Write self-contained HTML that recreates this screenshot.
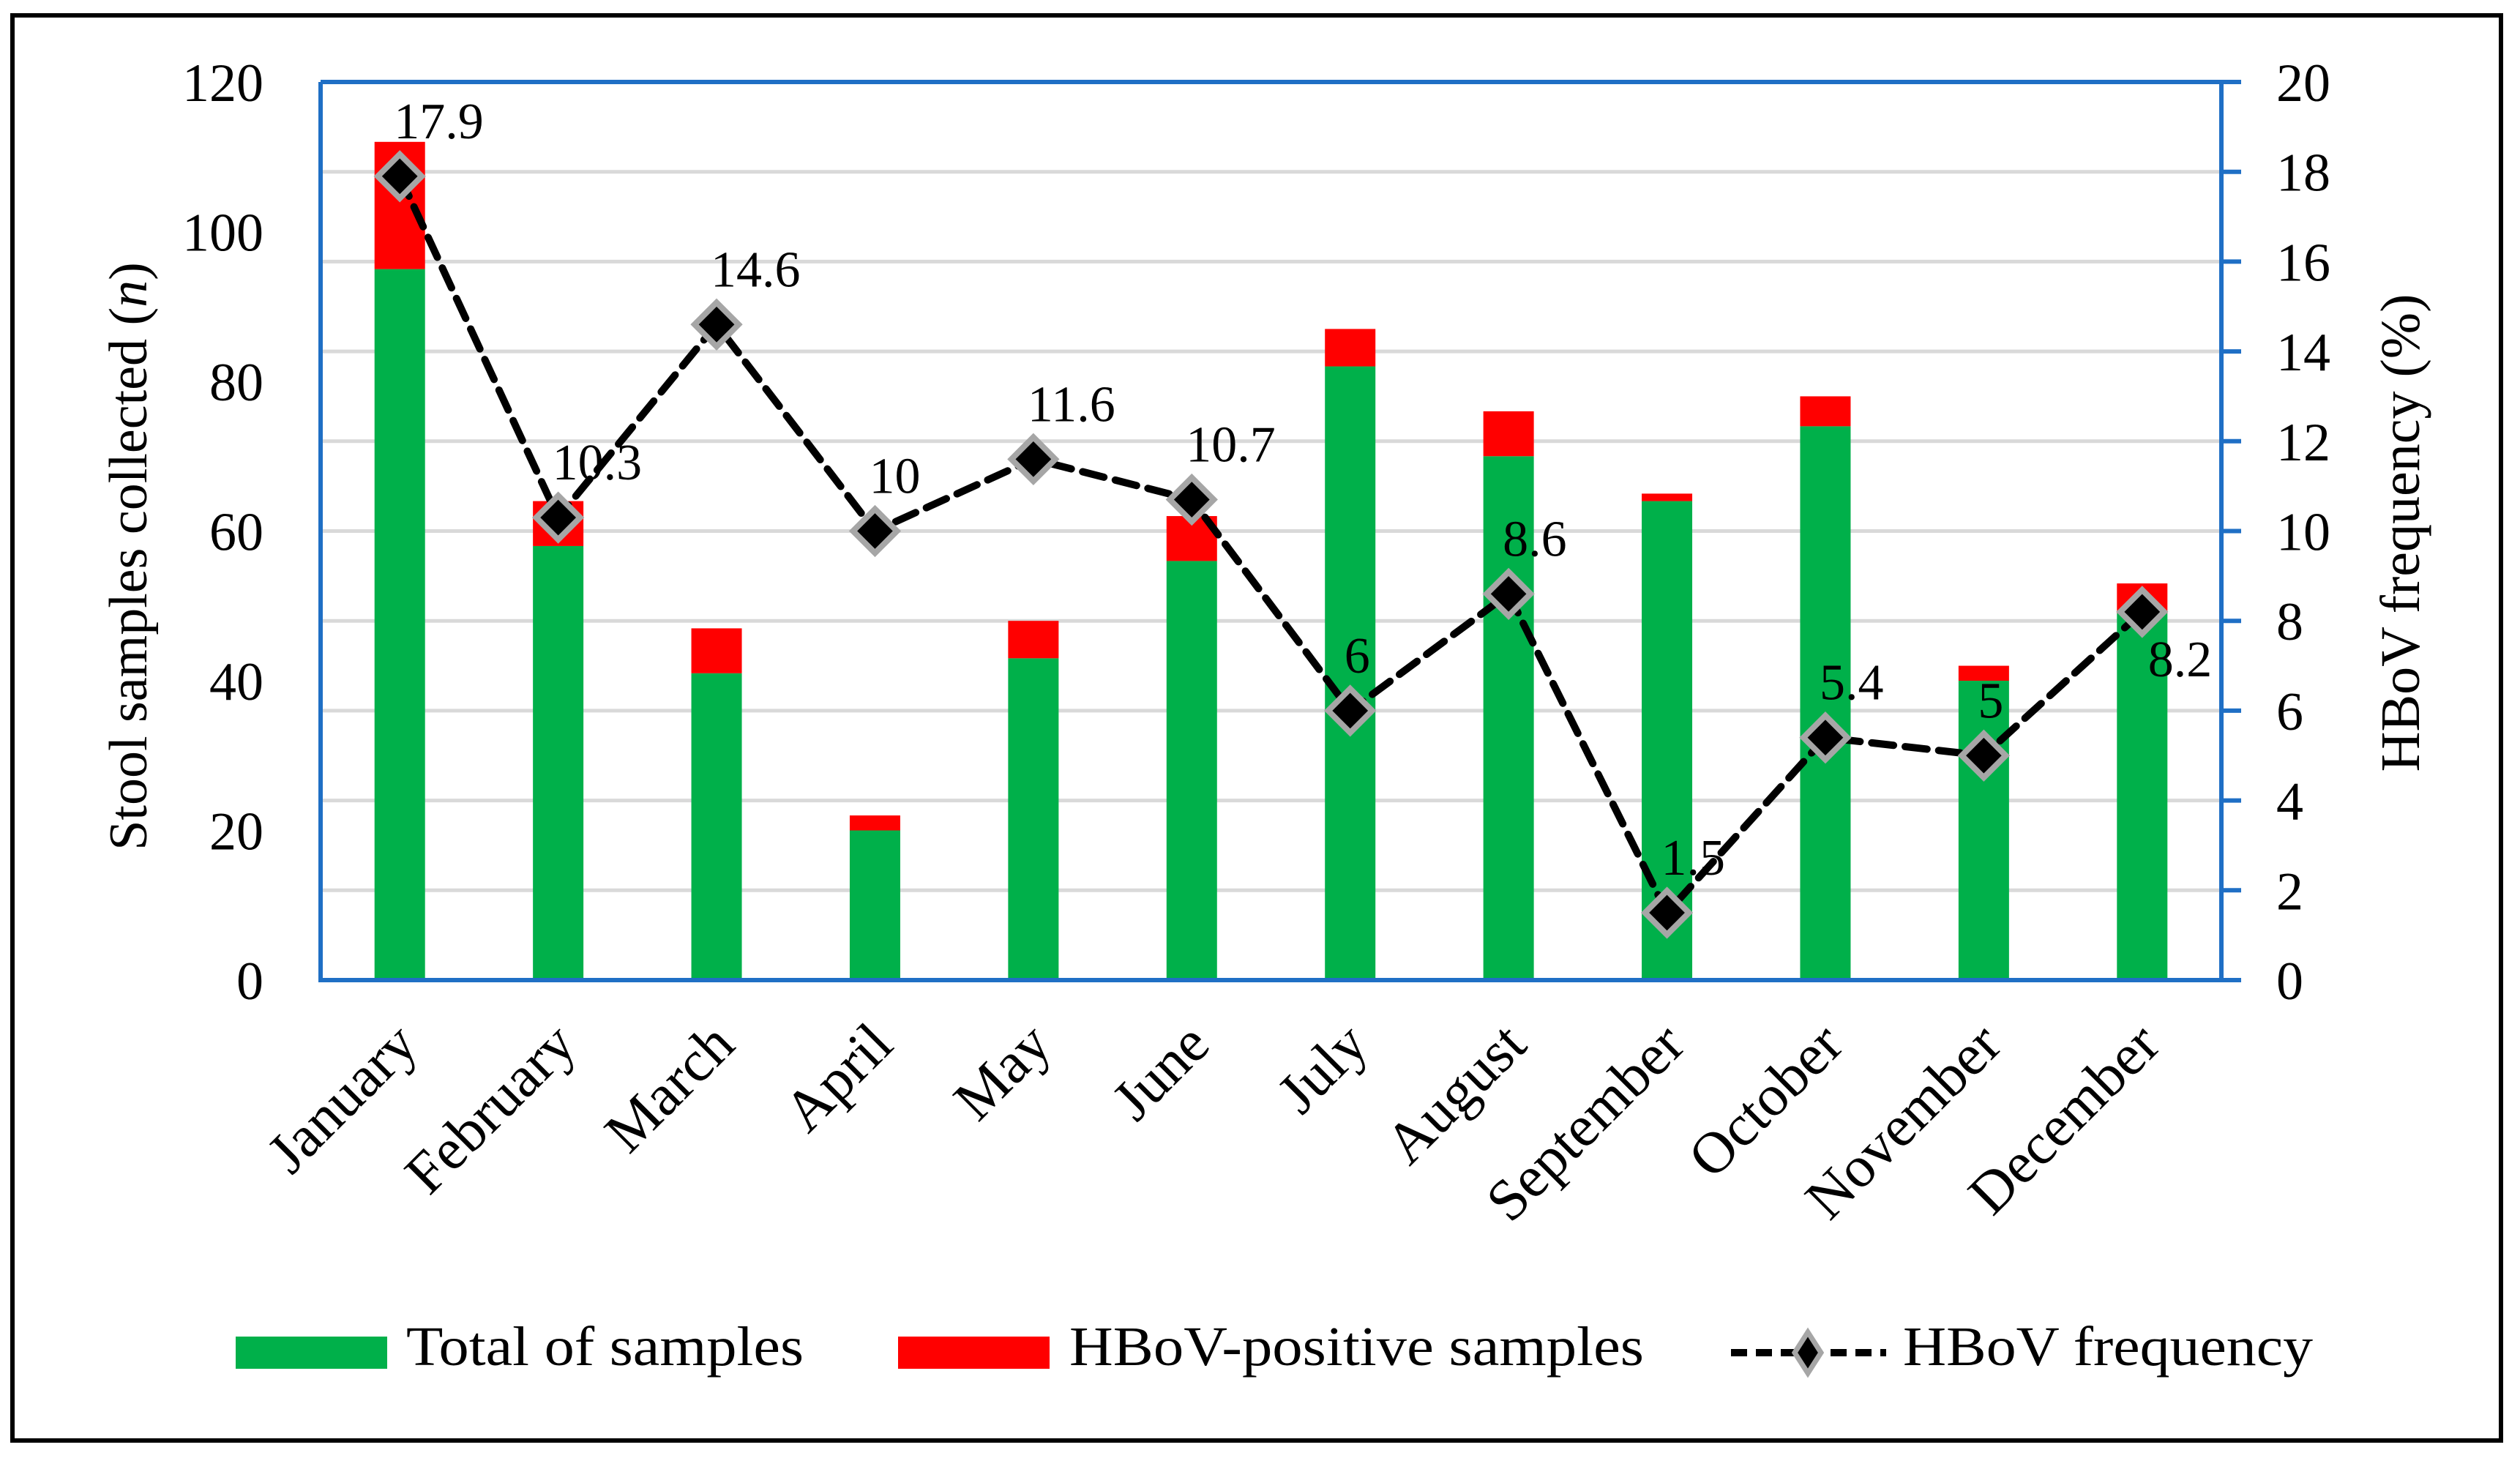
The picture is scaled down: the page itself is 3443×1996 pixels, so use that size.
<!DOCTYPE html>
<html><head><meta charset="utf-8"><style>
html,body{margin:0;padding:0;background:#fff}
svg text{font-family:"Liberation Serif",serif;fill:#000}
</style></head><body>
<svg id="chart" width="3443" height="1991" viewBox="0 0 3443 1991" xmlns="http://www.w3.org/2000/svg">
<rect x="17" y="21" width="3400" height="1947" fill="#fff" stroke="#000" stroke-width="6"/>
<g id="grid"></g>
<g id="bars"></g>
<g id="axes"></g>
<g id="line"></g>
<g id="labels"></g>
<text transform="translate(200,760) rotate(-90)" text-anchor="middle" font-size="74">Stool samples collected (<tspan font-style="italic">n</tspan>)</text>
<text transform="translate(3305,728) rotate(-90)" text-anchor="middle" font-size="76">HBoV frequency (%)</text>
<g>
<rect x="322" y="1826" width="207" height="44" fill="#00b04a"/>
<text x="555" y="1865" font-size="76" textLength="543" lengthAdjust="spacingAndGlyphs">Total of samples</text>
<rect x="1227" y="1826" width="207" height="44" fill="#ff0000"/>
<text x="1461" y="1865" font-size="76" textLength="785" lengthAdjust="spacingAndGlyphs">HBoV-positive samples</text>
<line x1="2365" y1="1848" x2="2577" y2="1848" stroke="#000" stroke-width="10" stroke-dasharray="22,12"/>
<path d="M2470,1820 L2488,1848 L2470,1876 L2452,1848 Z" fill="#000" stroke="#a6a6a6" stroke-width="7"/>
<text x="2600" y="1865" font-size="76" textLength="560" lengthAdjust="spacingAndGlyphs">HBoV frequency</text>
</g>
</svg>
<script>
const months=["January","February","March","April","May","June","July","August","September","October","November","December"];
const totalSamples=[95,58,41,20,43,56,82,70,64,74,40,49];
const positiveSamples=[17,6,6,2,5,6,5,6,1,4,2,4];
const frequency=[17.9,10.3,14.6,10,11.6,10.7,6,8.6,1.5,5.4,5,8.2];
const leftTicks=[0,20,40,60,80,100,120];
const rightTicks=[0,2,4,6,8,10,12,14,16,18,20];

const NS="http://www.w3.org/2000/svg";
const X0=438,X1=3035,Y0=1339,Y1=112;
const bw=(X1-X0)/months.length;
const yL=v=>Y0-(v/120)*(Y0-Y1);
const yR=v=>Y0-(v/20)*(Y0-Y1);
const xC=i=>X0+bw*(i+0.5);
function mk(tag,attrs,parent){const e=document.createElementNS(NS,tag);for(const k in attrs)e.setAttribute(k,attrs[k]);document.getElementById(parent).appendChild(e);return e;}

rightTicks.forEach(t=>{if(t===0)return;
 const g=mk('line',{x1:X0,x2:X1,y1:yR(t),y2:yR(t),stroke:'#d9d9d9','stroke-width':5},'grid');
 
 
});
months.forEach((m,i)=>{
 const w=69,x=xC(i)-w/2;
 const g=mk('rect',{x:x,y:yL(totalSamples[i]),width:w,height:Y0-yL(totalSamples[i]),fill:'#00b04a'},'bars');
 
 
 const r=mk('rect',{x:x,y:yL(totalSamples[i]+positiveSamples[i]),width:w,height:yL(totalSamples[i])-yL(totalSamples[i]+positiveSamples[i]),fill:'#ff0000'},'bars');
 
 
 const ax=xC(i)+28,ay=Y0+92;
 const t=mk('text',{x:ax,y:ay,'text-anchor':'end','font-size':80,transform:`rotate(-45 ${ax} ${ay})`},'labels');
 t.textContent=m;
 
 
});
let a=mk('path',{d:`M${X0},${Y1} V${Y0} H${X1+27} M${X0},${Y1} H${X1} V${Y0}`,fill:'none',stroke:'#1f6fc5','stroke-width':6},'axes');


rightTicks.forEach(t=>{
 const k=mk('line',{x1:X1,x2:X1+27,y1:yR(t),y2:yR(t),stroke:'#1f6fc5','stroke-width':6},'axes');
 
 
 const l=mk('text',{x:3110,y:yR(t)+26,'font-size':74},'labels');
 l.textContent=t;
 
 
});
leftTicks.forEach(t=>{
 const l=mk('text',{x:360,y:yL(t)+26,'font-size':74,'text-anchor':'end'},'labels');
 l.textContent=t;
 
 
});
const pts=frequency.map((f,i)=>xC(i)+','+yR(f)).join(' ');
const pl=mk('polyline',{points:pts,fill:'none',stroke:'#000','stroke-width':10,'stroke-dasharray':'30,16','stroke-linecap':'round'},'line');


frequency.forEach((f,i)=>{
 const x=xC(i),y=yR(f);
 const d=mk('path',{d:`M${x},${y-30} L${x+30},${y} L${x},${y+30} L${x-30},${y} Z`,fill:'#000',stroke:'#a6a6a6','stroke-width':8},'line');
 
 
 const last=i===frequency.length-1;
 const l=mk('text',{x:last?x+8:x-8,y:last?y+88:y-52,'font-size':70},'labels');
 l.textContent=f;
 
 
});
</script>
</body></html>
